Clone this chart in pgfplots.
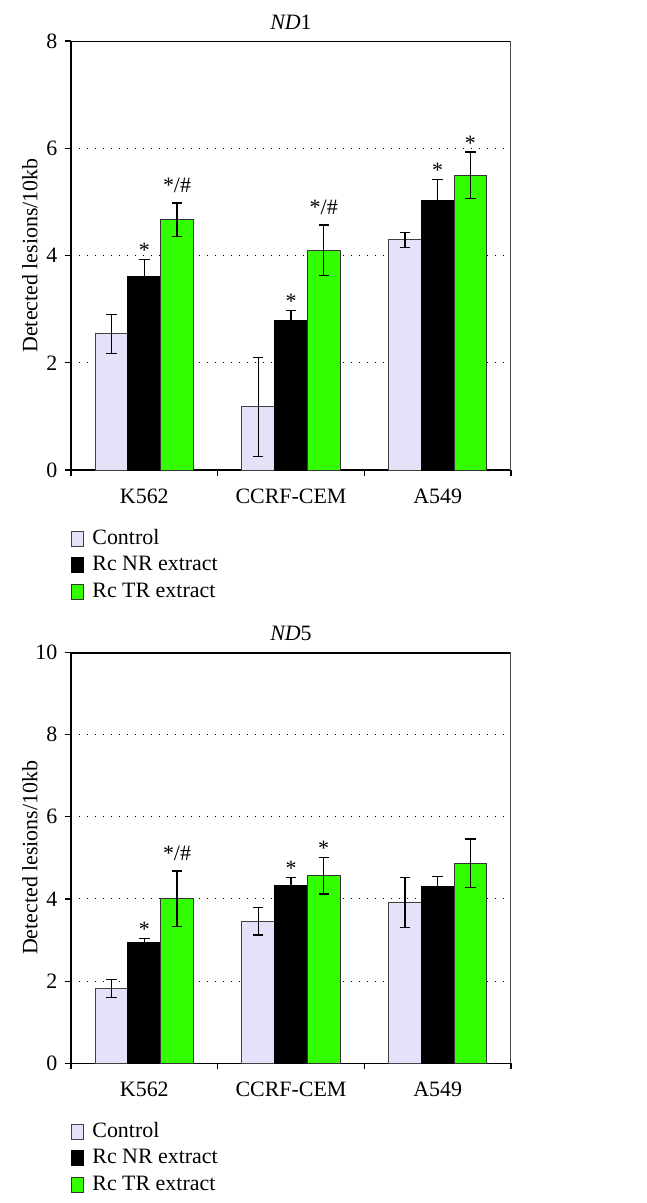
\documentclass[border=0pt]{standalone}
\usepackage{fontspec}
\setmainfont{Liberation Serif}
\usepackage{pgfplots}
\pgfplotsset{compat=1.18}
\definecolor{ctrl}{RGB}{230,225,248}
\definecolor{grn}{RGB}{51,255,0}
\tikzset{
 star/.style={anchor=base, yshift=1bp, inner sep=0pt},
 starh/.style={anchor=base, yshift=5bp, inner sep=0pt},
}
\pgfplotsset{
 panel/.style={
  scale only axis, width=220bp,
  xmin=0, xmax=3, ymin=0,
  axis lines=left, axis line style={-, line width=0.7bp, black},
  xtick={0,1,2,3}, xticklabels={K562,CCRF-CEM,A549,},
  x tick label style={xshift=36.67bp, yshift=-2.5bp},
  tick align=outside, major tick length=3bp,
  tick style={black, line width=0.6bp},
  /pgf/number format/assume math mode=true,
  ymajorgrids, grid style={black, line width=0.5bp, dash pattern=on 0.6bp off 3.4bp},
  title style={at={(0.5,1)}, anchor=south, yshift=-4bp},
  ylabel={Detected lesions/10kb},
  ylabel style={at={(axis description cs:-0.0932,0.5)}, anchor=center},
  legend cell align=left,
  legend image code/.code={\draw[#1, line width=0.5bp] (0bp,-3.75bp) rectangle (6bp,3.75bp);},
  every axis plot/.append style={ybar, bar width=0.223, bar shift=0pt, line width=0.5bp,
     error bars/y dir=both, error bars/y explicit,
     error bars/error bar style={black, line width=0.6bp},
     error bars/error mark options={black, rotate=90, mark size=2.6bp, line width=0.6bp}},
 },
}
\begin{document}
\fontsize{11}{13}\selectfont
\begin{tikzpicture}
\path[use as bounding box] (-35.5bp,-366.5bp) rectangle (288bp,235bp);
% ---------------- ND1
\begin{axis}[panel, at={(0,0)}, anchor=south west, height=214.5bp,
  ymax=8, ytick={0,2,4,6,8}, title={\textit{ND}1},
  legend style={draw=none, at={(0,-0.132)}, anchor=north west, inner sep=0pt,
    row sep=1.75bp, column sep=3bp,
    nodes={inner sep=1bp, text height=7.5bp, text depth=2bp}}]
\addplot[fill=ctrl, draw=black!75] coordinates {(0.277,2.54) +- (0,0.36) (1.277,1.175) +- (0,0.93) (2.277,4.29) +- (0,0.14)};
\addplot[fill=black, draw=black] coordinates {(0.5,3.60) +- (0,0.33) (1.5,2.79) +- (0,0.18) (2.5,5.03) +- (0,0.38)};
\addplot[fill=grn, draw=black!80] coordinates {(0.723,4.67) +- (0,0.31) (1.723,4.10) +- (0,0.47) (2.723,5.50) +- (0,0.43)};
\legend{Control, Rc NR extract, Rc TR extract}
\node[star] at (axis cs:0.5,3.93) {*};
\node[starh] at (axis cs:0.723,4.98) {*/\#};
\node[star] at (axis cs:1.5,2.97) {*};
\node[starh] at (axis cs:1.723,4.57) {*/\#};
\node[star] at (axis cs:2.5,5.41) {*};
\node[star] at (axis cs:2.723,5.93) {*};
\draw[black, line width=1.4bp] (rel axis cs:0,1) -- (rel axis cs:1,1);
\draw[black!70, line width=0.6bp] (rel axis cs:1,0) -- (rel axis cs:1,1);
\end{axis}
% ---------------- ND5
\begin{axis}[panel, at={(0,-296.65bp)}, anchor=south west, height=205.5bp,
  ymax=10, ytick={0,2,4,6,8,10}, title={\textit{ND}5},
  legend style={draw=none, at={(0,-0.1377)}, anchor=north west, inner sep=0pt,
    row sep=1.75bp, column sep=3bp,
    nodes={inner sep=1bp, text height=7.5bp, text depth=2bp}}]
\addplot[fill=ctrl, draw=black!75] coordinates {(0.277,1.82) +- (0,0.22) (1.277,3.46) +- (0,0.34) (2.277,3.91) +- (0,0.61)};
\addplot[fill=black, draw=black] coordinates {(0.5,2.93) +- (0,0.11) (1.5,4.32) +- (0,0.21) (2.5,4.29) +- (0,0.26)};
\addplot[fill=grn, draw=black!80] coordinates {(0.723,4.00) +- (0,0.68) (1.723,4.56) +- (0,0.44) (2.723,4.87) +- (0,0.59)};
\legend{Control, Rc NR extract, Rc TR extract}
\node[star] at (axis cs:0.5,3.04) {*};
\node[starh] at (axis cs:0.723,4.68) {*/\#};
\node[star] at (axis cs:1.5,4.53) {*};
\node[star] at (axis cs:1.723,5.00) {*};
\draw[black, line width=1.4bp] (rel axis cs:0,1) -- (rel axis cs:1,1);
\draw[black!70, line width=0.6bp] (rel axis cs:1,0) -- (rel axis cs:1,1);
\end{axis}
\end{tikzpicture}
\end{document}
